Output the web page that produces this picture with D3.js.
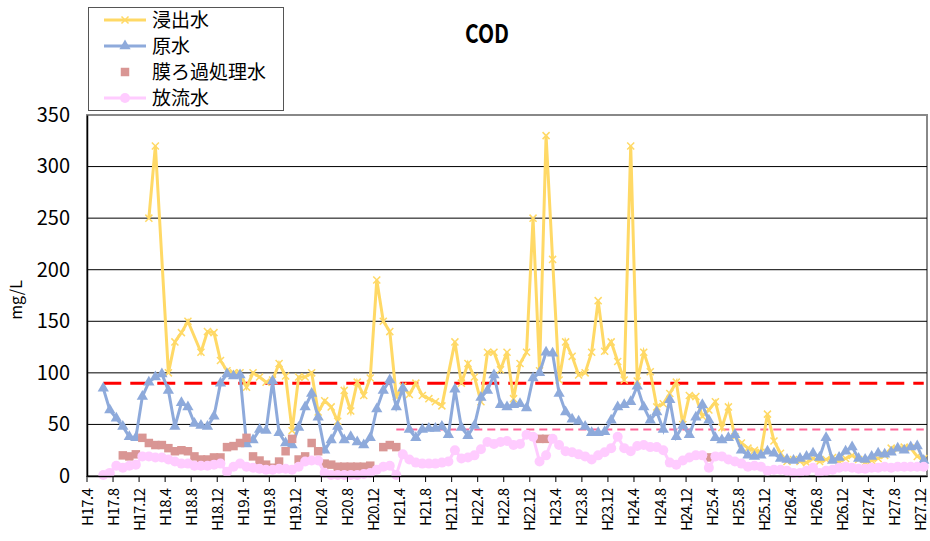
<!DOCTYPE html>
<html>
<head>
<meta charset="utf-8">
<script src="https://cdn.jsdelivr.net/npm/d3@7"></script>
<style>
  body { margin: 0; background: #fff; }
  svg { display: block; }
  text { font-family: "Noto Sans CJK JP", sans-serif; }
</style>
</head>
<body>
<svg id="chart" width="930" height="541"></svg>
<script>
// categories: every month from H17.4 to H27.12
const months = [];
for (let yr = 17; yr <= 27; yr++) {
  for (let m = 1; m <= 12; m++) {
    if (yr === 17 && m < 4) continue;
    months.push("H" + yr + "." + m);
  }
}

const tickLabels = ["H17.4","H17.8","H17.12","H18.4","H18.8","H18.12","H19.4","H19.8","H19.12",
  "H20.4","H20.8","H20.12","H21.4","H21.8","H21.12","H22.4","H22.8","H22.12","H23.4","H23.8",
  "H23.12","H24.4","H24.8","H24.12","H25.4","H25.8","H25.12","H26.4","H26.8","H26.12","H27.4",
  "H27.8","H27.12"];
const yTicks = [0, 50, 100, 150, 200, 250, 300, 350];

// 浸出水 (one row per year, starting H17.4 / H18.4 / ...)
const leachate = [
  null,null,null,null,null,null,null,null,null,250,320,null,
  100,130,139,150,null,120,140,139,112,102,100,100,
  86,100,96,91,93,109,97,44,96,96,100,62,
  73,67,53,83,63,91,78,95,190,150,140,77,
  87,79,90,78,75,72,68,null,130,90,109,96,
  72,120,120,103,120,75,109,120,250,102,330,210,
  93,130,116,98,100,120,170,121,130,111,93,320,
  92,120,101,67,70,80,91,50,78,77,58,64,
  72,47,67,38,32,27,25,23,60,34,22,14,
  16,14,13,17,14,16,18,14,17,20,16,13,
  15,17,20,27,26,28,27,19,17
];
// 原水
const raw = [
  null,null,85,64,56,48,38,37,77,91,96,99,
  83,48,71,67,51,49,48,58,90,99,97,98,
  31,35,45,44,92,42,32,30,47,67,80,57,
  25,35,48,35,38,33,30,37,65,83,93,67,
  85,45,37,45,46,46,48,40,84,47,39,49,
  76,83,98,69,67,69,70,66,95,100,120,119,
  80,62,55,53,48,42,42,43,54,67,69,72,
  87,67,54,62,45,74,38,49,40,57,69,54,
  37,35,37,40,25,20,19,20,24,22,17,16,
  15,17,19,22,18,37,15,18,24,28,17,16,
  19,22,21,23,27,25,28,29,15
];
// 膜ろ過処理水
const membrane = [
  null,null,null,null,null,20,19,21,37,32,30,30,
  27,24,25,24,19,16,16,18,18,28,29,32,
  37,19,15,11,8,14,24,36,16,19,32,24,
  12,11,9,9,9,9,9,10,null,28,30,28,
  null,null,null,null,null,null,null,null,null,null,null,null,
  null,null,null,null,null,null,null,null,null,36,36,null,
  null,null,null,null,null,null,null,null,null,null,null,null,
  null,null,null,null,null,null,null,null,null,null,null,18,
  null,null,null,null,null,null,null,null,null,null,null,null,
  null,null,null,null,null,null,null,null,null,null,null,null,
  null,null,null,null,null,null,null,null,null
];
// 放流水
const effluent = [
  null,null,1,3,10,8,10,11,19,19,18,18,
  16,14,12,12,10,10,10,11,12,4,9,12,
  9,8,7,6,6,7,7,6,9,14,15,15,
  3,1,1,1,1,1,2,3,6,9,10,1,
  21,16,13,12,12,12,13,14,25,17,18,20,
  26,33,31,33,34,30,31,40,38,14,20,36,
  30,24,23,21,19,16,20,23,27,38,27,24,
  29,30,28,28,25,13,11,15,18,20,20,8,
  19,19,16,14,12,9,10,9,5,6,6,5,
  3,3,5,8,3,5,6,8,9,8,7,7,
  8,8,9,8,9,9,9,9,9
];

// reference levels
const limitHigh = 90, limitHighFrom = "H17.6";
const limitLow = 45, limitLowFrom = "H21.3";

const svg = d3.select("#chart");
const plotL = 87, plotR = 927, plotT = 115, plotB = 476;

const x = d3.scaleBand().domain(months).range([plotL, plotR]);
const y = d3.scaleLinear().domain([0, 350]).range([plotB, plotT]);
const cx = m => x(m) + x.bandwidth() / 2;

const pts = arr => months.map((m, i) => ({m: m, v: arr[i]})).filter(d => d.v != null);

// plot frame
svg.append("rect")
  .attr("x", plotL).attr("y", plotT)
  .attr("width", plotR - plotL).attr("height", plotB - plotT)
  .attr("fill", "none").attr("stroke", "#888").attr("stroke-width", 2);

// gridlines
svg.append("g")
  .selectAll("line")
  .data(yTicks.filter(d => d > 0 && d < 350))
  .enter().append("line")
  .attr("x1", plotL).attr("x2", plotR)
  .attr("y1", d => y(d)).attr("y2", d => y(d))
  .attr("stroke", "#000").attr("stroke-width", 1);

// reference lines
const line = d3.line().x(d => cx(d.m)).y(d => y(d.v));
svg.append("line")
  .attr("x1", cx(limitHighFrom)).attr("x2", cx(months[months.length - 1]))
  .attr("y1", y(limitHigh)).attr("y2", y(limitHigh))
  .attr("stroke", "#ff0000").attr("stroke-width", 3).attr("stroke-dasharray", "18,9");
svg.append("line")
  .attr("x1", cx(limitLowFrom)).attr("x2", cx(months[months.length - 1]))
  .attr("y1", y(limitLow)).attr("y2", y(limitLow))
  .attr("stroke", "#ff6699").attr("stroke-width", 2).attr("stroke-dasharray", "8,5");

const yellow = "#ffd966", blue = "#8eaadb", rose = "#d99694", pink = "#ffccff";

// 浸出水
svg.append("path").datum(pts(leachate))
  .attr("d", line).attr("fill", "none").attr("stroke", yellow).attr("stroke-width", 3);
svg.append("g").selectAll("path")
  .data(pts(leachate)).enter().append("path")
  .attr("d", d3.symbol(d3.symbolTimes, 34))
  .attr("transform", d => "translate(" + cx(d.m) + "," + y(d.v) + ")")
  .attr("fill", "none").attr("stroke", yellow).attr("stroke-width", 1.5);

// 原水
svg.append("path").datum(pts(raw))
  .attr("d", line).attr("fill", "none").attr("stroke", blue).attr("stroke-width", 3);
svg.append("g").selectAll("path")
  .data(pts(raw)).enter().append("path")
  .attr("d", d3.symbol(d3.symbolTriangle, 55))
  .attr("transform", d => "translate(" + cx(d.m) + "," + y(d.v) + ")")
  .attr("fill", blue);

// 膜ろ過処理水
svg.append("g").selectAll("path")
  .data(pts(membrane)).enter().append("path")
  .attr("d", d3.symbol(d3.symbolSquare, 72))
  .attr("transform", d => "translate(" + cx(d.m) + "," + y(d.v) + ")")
  .attr("fill", rose);

// 放流水
svg.append("path").datum(pts(effluent))
  .attr("d", line).attr("fill", "none").attr("stroke", pink).attr("stroke-width", 3);
svg.append("g").selectAll("circle")
  .data(pts(effluent)).enter().append("circle")
  .attr("cx", d => cx(d.m)).attr("cy", d => y(d.v)).attr("r", 5)
  .attr("fill", pink);

// y axis
svg.append("g")
  .attr("transform", "translate(" + plotL + ",0)")
  .call(d3.axisLeft(y).tickValues(yTicks).tickSize(0).tickPadding(17))
  .attr("font-family", "\"Noto Sans CJK JP\", sans-serif").attr("font-size", 20)
  .call(g => g.select(".domain").attr("stroke", "#000").attr("stroke-width", 1.5))
  .selectAll("text").attr("fill", "#000");

// x axis
const xAxis = svg.append("g")
  .attr("transform", "translate(0," + plotB + ")")
  .call(d3.axisBottom(x).tickValues(tickLabels).tickSize(0))
  .attr("font-family", "\"Noto Sans CJK JP\", sans-serif").attr("font-size", 15);
xAxis.select(".domain").attr("stroke", "#000").attr("stroke-width", 1.5);
xAxis.selectAll("text")
  .attr("fill", "#000")
  .attr("transform", "rotate(-90)")
  .attr("text-anchor", "end")
  .attr("x", -12).attr("y", -3).attr("dy", "0.35em")
  .attr("textLength", d => d.length > 5 ? 43 : 38)
  .attr("lengthAdjust", "spacing");
// tick marks sit on the boundary before each labelled month
svg.append("g").selectAll("line")
  .data(tickLabels).enter().append("line")
  .attr("x1", d => x(d)).attr("x2", d => x(d))
  .attr("y1", plotB).attr("y2", plotB + 6)
  .attr("stroke", "#000").attr("stroke-width", 1);

// axis title
svg.append("text")
  .attr("transform", "translate(22,300) rotate(-90)")
  .attr("text-anchor", "middle").attr("font-size", 16)
  .text("mg/L");

// chart title
svg.append("text")
  .attr("x", 487).attr("y", 43)
  .attr("text-anchor", "middle").attr("font-size", 26).attr("font-weight", "bold")
  .attr("textLength", 44).attr("lengthAdjust", "spacingAndGlyphs")
  .text("COD");

// legend
const legend = svg.append("g");
legend.append("rect")
  .attr("x", 88.5).attr("y", 7.5).attr("width", 195).attr("height", 103)
  .attr("fill", "#fff").attr("stroke", "#555").attr("stroke-width", 1);
const legendItems = [
  {name: "浸出水", color: yellow, line: true, sym: d3.symbolTimes},
  {name: "原水", color: blue, line: true, sym: d3.symbolTriangle},
  {name: "膜ろ過処理水", color: rose, line: false, sym: d3.symbolSquare},
  {name: "放流水", color: pink, line: true, sym: null}
];
const rowY = [20, 46, 72, 98];
legendItems.forEach((it, i) => {
  const g = legend.append("g").attr("transform", "translate(0," + rowY[i] + ")");
  if (it.line) {
    g.append("line").attr("x1", 104).attr("x2", 146).attr("y1", 0).attr("y2", 0)
      .attr("stroke", it.color).attr("stroke-width", 3);
  }
  if (it.sym === d3.symbolTimes) {
    g.append("path").attr("d", d3.symbol(it.sym, 34)).attr("transform", "translate(125,0)")
      .attr("fill", "none").attr("stroke", it.color).attr("stroke-width", 1.5);
  } else if (it.sym === d3.symbolTriangle) {
    g.append("path").attr("d", d3.symbol(it.sym, 55)).attr("transform", "translate(125,0)")
      .attr("fill", it.color);
  } else if (it.sym === d3.symbolSquare) {
    g.append("path").attr("d", d3.symbol(it.sym, 72)).attr("transform", "translate(125,0)")
      .attr("fill", it.color);
  } else {
    g.append("circle").attr("cx", 125).attr("cy", 0).attr("r", 5).attr("fill", it.color);
  }
  g.append("text").attr("x", 152).attr("y", 0).attr("dy", "0.36em")
    .attr("font-size", 19).attr("fill", "#000").text(it.name);
});
</script>
</body>
</html>
